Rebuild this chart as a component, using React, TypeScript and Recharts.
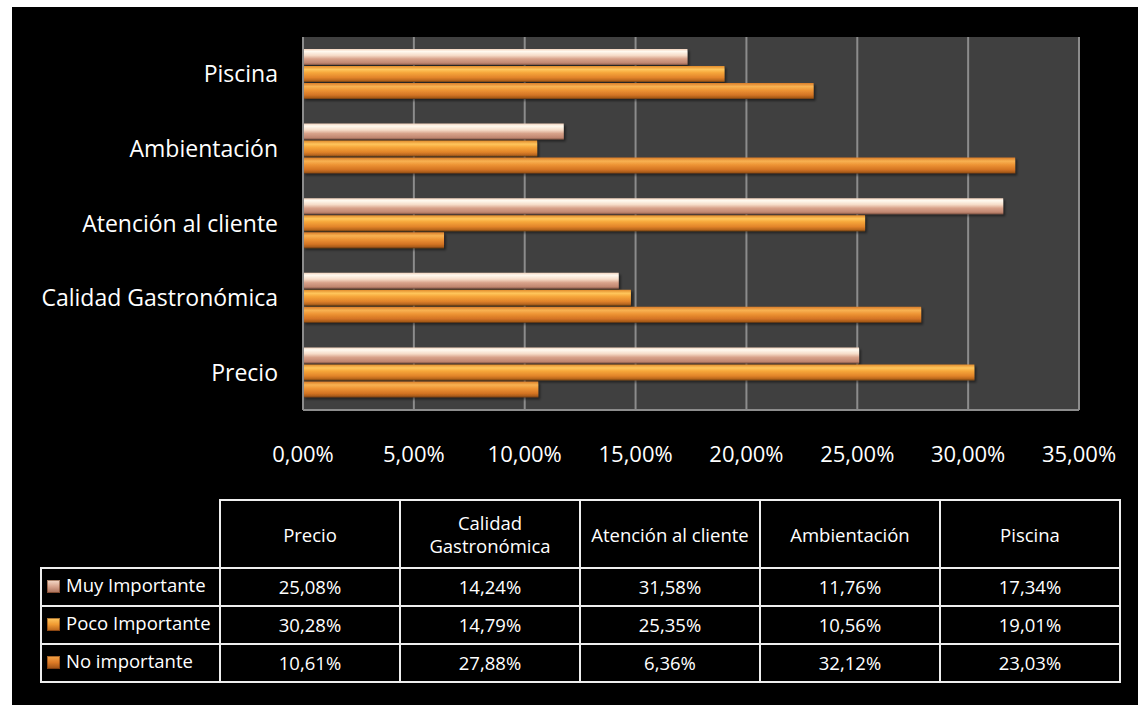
import { Bar, BarChart, CartesianGrid, XAxis, YAxis } from 'recharts';

const categories = ['Precio', 'Calidad Gastronómica', 'Atención al cliente', 'Ambientación', 'Piscina'];
const muyImportante = [25.08, 14.24, 31.58, 11.76, 17.34];
const pocoImportante = [30.28, 14.79, 25.35, 10.56, 19.01];
const noImportante = [10.61, 27.88, 6.36, 32.12, 23.03];
const xTicks = [0, 5, 10, 15, 20, 25, 30, 35];

const seriesNames = ['Muy Importante', 'Poco Importante', 'No importante'];
const seriesValues = [muyImportante, pocoImportante, noImportante];
const seriesKeys = ['muy', 'poco', 'no'];

const data = categories.map((name, i) => ({
  name,
  muy: muyImportante[i],
  poco: pocoImportante[i],
  no: noImportante[i],
}));

const FONT = '"Open Sans", Lato, sans-serif';

const pct = (v: number) => v.toFixed(2).replace('.', ',') + '%';

// little bevelled squares used as legend keys in the data table
const keyStyles = [
  'linear-gradient(180deg, #f6dccb 0%, #d8a48e 50%, #a86e58 100%)',
  'linear-gradient(180deg, #ffc860 0%, #f09a32 50%, #b8621a 100%)',
  'linear-gradient(180deg, #f4a448 0%, #dc7a26 50%, #9a4e14 100%)',
];

function XTick({ x, y, payload }: any) {
  return (
    <text x={x} y={y} dy={50} textAnchor="middle" fill="#fff" fontSize={22} fontFamily={FONT}>
      {pct(payload.value)}
    </text>
  );
}

const cell: React.CSSProperties = {
  border: '2px solid #eeeeee',
  textAlign: 'center',
  verticalAlign: 'middle',
  padding: '0 4px',
};

export default function App() {
  return (
    <div
      style={{
        position: 'absolute',
        left: 12,
        top: 7,
        width: 1126,
        height: 698,
        background: '#000',
        fontFamily: FONT,
        color: '#fff',
        overflow: 'hidden',
      }}
    >
      <BarChart
        width={1126}
        height={463}
        data={data}
        layout="vertical"
        margin={{ top: 30, right: 59, bottom: 0, left: 0 }}
        barSize={16}
        barGap={1}
      >
        <defs>
          <linearGradient id="gMuy" x1="0" y1="0" x2="0" y2="1">
            <stop offset="0%" stopColor="#f2d2bc" />
            <stop offset="15%" stopColor="#fffaf0" />
            <stop offset="40%" stopColor="#f6dcc8" />
            <stop offset="62%" stopColor="#d8a28a" />
            <stop offset="88%" stopColor="#c08670" />
            <stop offset="100%" stopColor="#7e5242" />
          </linearGradient>
          <linearGradient id="gPoco" x1="0" y1="0" x2="0" y2="1">
            <stop offset="0%" stopColor="#e08a2c" />
            <stop offset="22%" stopColor="#ffc65c" />
            <stop offset="42%" stopColor="#f6a63a" />
            <stop offset="72%" stopColor="#e2842a" />
            <stop offset="90%" stopColor="#b8661e" />
            <stop offset="100%" stopColor="#70400f" />
          </linearGradient>
          <linearGradient id="gNo" x1="0" y1="0" x2="0" y2="1">
            <stop offset="0%" stopColor="#d97c28" />
            <stop offset="22%" stopColor="#f8b252" />
            <stop offset="45%" stopColor="#ee9434" />
            <stop offset="75%" stopColor="#d47424" />
            <stop offset="92%" stopColor="#a85a18" />
            <stop offset="100%" stopColor="#663610" />
          </linearGradient>
          <filter id="barShadow" x="-5%" y="-30%" width="110%" height="180%">
            <feDropShadow dx="2" dy="2" stdDeviation="1.2" floodColor="#000" floodOpacity="0.45" />
          </filter>
        </defs>
        <CartesianGrid fill="#404040" stroke="#8c8c8c" strokeWidth={2} horizontal={false} />
        <XAxis
          type="number"
          domain={[0, 35]}
          ticks={xTicks}
          interval={0}
          height={60}
          tickLine={false}
          tickSize={0}
          axisLine={{ stroke: '#8c8c8c', strokeWidth: 2 }}
          tick={<XTick />}
        />
        <YAxis
          type="category"
          dataKey="name"
          reversed
          width={291}
          tickLine={false}
          tickSize={0}
          tickMargin={25}
          axisLine={{ stroke: '#8c8c8c', strokeWidth: 2 }}
          tick={{ fill: '#fff', fontSize: 23, fontFamily: FONT }}
        />
        <Bar dataKey="muy" name={seriesNames[0]} fill="url(#gMuy)" filter="url(#barShadow)" isAnimationActive={false} />
        <Bar dataKey="poco" name={seriesNames[1]} fill="url(#gPoco)" filter="url(#barShadow)" isAnimationActive={false} />
        <Bar dataKey="no" name={seriesNames[2]} fill="url(#gNo)" filter="url(#barShadow)" isAnimationActive={false} />
      </BarChart>

      <table
        style={{
          position: 'absolute',
          left: 28,
          top: 492,
          width: 1079,
          borderCollapse: 'collapse',
          tableLayout: 'fixed',
          fontSize: 18.5,
          color: '#fff',
        }}
      >
        <colgroup>
          <col style={{ width: 179 }} />
          {categories.map((c) => (
            <col key={c} style={{ width: 180 }} />
          ))}
        </colgroup>
        <tbody>
          <tr style={{ height: 68 }}>
            <td style={{ ...cell, borderTop: 'none', borderLeft: 'none' }} />
            {categories.map((c) => (
              <td key={c} style={{ ...cell, lineHeight: '23px' }}>
                {c}
              </td>
            ))}
          </tr>
          {seriesNames.map((s, si) => (
            <tr key={s} style={{ height: 38 }}>
              <td style={{ ...cell, textAlign: 'left', paddingLeft: 5, paddingBottom: 5, whiteSpace: 'nowrap' }}>
                <span
                  style={{
                    display: 'inline-block',
                    width: 13,
                    height: 13,
                    marginRight: 6,
                    verticalAlign: -1,
                    background: keyStyles[si],
                    boxShadow: 'inset 0 0 0 1px rgba(90,40,10,0.5)',
                  }}
                />
                {s}
              </td>
              {seriesValues[si].map((v, ci) => (
                <td key={seriesKeys[si] + ci} style={{ ...cell, paddingBottom: 2 }}>
                  {pct(v)}
                </td>
              ))}
            </tr>
          ))}
        </tbody>
      </table>
    </div>
  );
}
